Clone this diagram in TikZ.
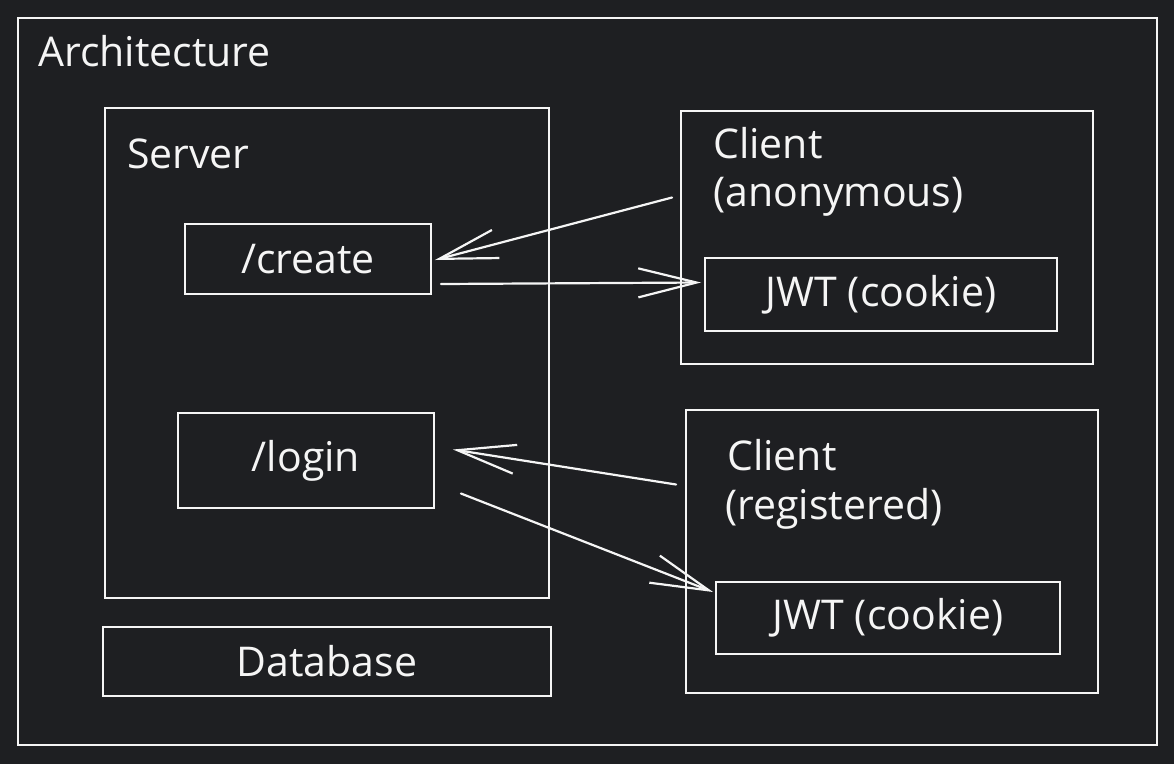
\documentclass[tikz,border=0pt]{standalone}
\usepackage{fontspec}
\setmainfont{Open Sans}
\usetikzlibrary{arrows.meta}
\definecolor{bg}{RGB}{30,31,34}
\definecolor{ink}{RGB}{245,245,245}
\tikzset{
  box/.style={draw=ink, line width=1.9pt, inner sep=0pt, rectangle, text=ink,
    font=\fontsize{41}{48}\selectfont},
  lbl/.style={text=ink, inner sep=0pt, font=\fontsize{41}{48}\selectfont},
  link/.style={draw=ink, line width=2.2pt, line cap=round,
    -{Straight Barb[angle=28:60pt, line width=2.2pt]}},
}
\begin{document}
\begin{tikzpicture}[x=1pt, y=-1pt]
\fill[bg] (0,0) rectangle (1174,764);
\useasboundingbox (0,0) rectangle (1174,764);
% outer frame
\node[box, minimum width=1139pt, minimum height=727pt] (arch) at (587.5,381.5) {};
\node[lbl, anchor=base west] (archlbl) at (38,66) {Architecture};
% server
\node[box, minimum width=444pt, minimum height=490pt] (server) at (327,353) {};
\node[lbl, anchor=base west] (serverlbl) at (127,168) {Server};
\node[box, minimum width=246pt, minimum height=70pt] (create) at (308,259) {/create};
\node[box, minimum width=256pt, minimum height=95pt] (login) at (306,460.5) {/login};
\node[box, minimum width=448pt, minimum height=69pt] (db) at (327,661.5) {Database};
% client anonymous
\node[box, minimum width=412pt, minimum height=253pt] (canon) at (887,237.5) {};
\node[lbl, anchor=base west] (canonl1) at (713,158) {Client};
\node[lbl, anchor=base west] (canonl2) at (713,206) {(anonymous)};
\node[box, minimum width=352pt, minimum height=73pt] (jwt1) at (881,294.5) {JWT (cookie)};
% client registered
\node[box, minimum width=412pt, minimum height=283pt] (creg) at (892,551.5) {};
\node[lbl, anchor=base west] (cregl1) at (727,470) {Client};
\node[lbl, anchor=base west] (cregl2) at (725,519) {(registered)};
\node[box, minimum width=344pt, minimum height=72pt] (jwt2) at (888,618) {JWT (cookie)};
% connectors
\draw[link] ([shift={(-8,-40)}]canon.west) -- ([shift={(3,1)}]create.east);
\draw[link] ([shift={(9,25)}]create.east) -- ([shift={(-3,-12)}]jwt1.west);
\draw[link] ([shift={(-9,-67)}]creg.west) -- ([shift={(18,-11)}]login.east);
\draw[link] ([shift={(26,33)}]login.east) -- ([shift={(-2,-26)}]jwt2.west);
\end{tikzpicture}
\end{document}
